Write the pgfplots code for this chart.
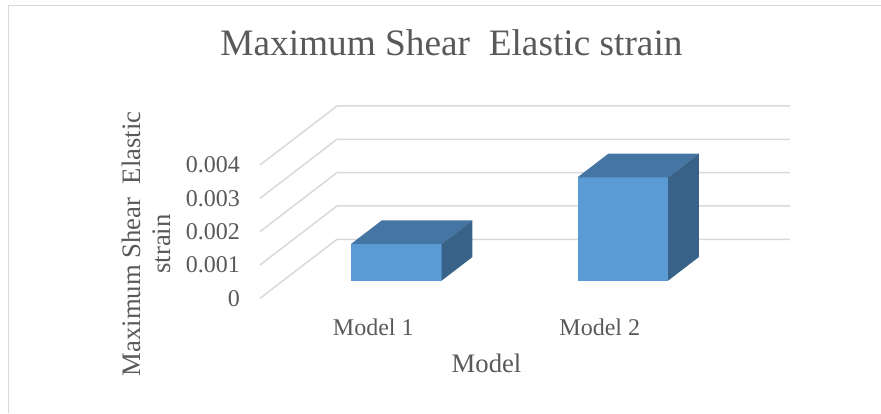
\documentclass[border=0pt]{standalone}
\usepackage{fontspec}
\setmainfont{Liberation Serif}
\usepackage{pgfplots}
\usepackage{pgfplotstable}
\pgfplotsset{compat=1.18}

\definecolor{txt}{RGB}{89,89,89}
\definecolor{gridc}{RGB}{217,217,217}
\definecolor{barfront}{RGB}{91,155,213}
\definecolor{bartop}{RGB}{68,117,163}
\definecolor{barside}{RGB}{56,98,135}

% oblique depth offsets: x in category units, y in strain units
\def\DX{0.34}
\def\DY{0.00177}

% unit faces of a box: u = across (-1..1), h = height (0..1), d = depth (0 front .. 1 back)
\pgfplotstableread{
u h d
-1 0 0.3
1 0 0.3
1 1 0.3
-1 1 0.3
}\frontface
\pgfplotstableread{
u h d
-1 1 0.3
1 1 0.3
1 1 0.7
-1 1 0.7
}\topface
\pgfplotstableread{
u h d
1 0 0.3
1 0 0.7
1 1 0.7
1 1 0.3
}\sideface
% one gridline: front end -> back wall -> along the back wall
\pgfplotstableread{
a b c
0 0 0
1 1 0
1 1 1
}\gridshape

% #1 = category position, #2 = value
\newcommand{\barbox}[2]{%
  \addplot[fill=barfront, draw=none] table[x expr={#1+0.2*\thisrow{u}+\DX*\thisrow{d}}, y expr={#2*\thisrow{h}+\DY*\thisrow{d}}]{\frontface};
  \addplot[fill=bartop, draw=none] table[x expr={#1+0.2*\thisrow{u}+\DX*\thisrow{d}}, y expr={#2*\thisrow{h}+\DY*\thisrow{d}}]{\topface};
  \addplot[fill=barside, draw=none] table[x expr={#1+0.2*\thisrow{u}+\DX*\thisrow{d}}, y expr={#2*\thisrow{h}+\DY*\thisrow{d}}]{\sideface};
}

\begin{document}
\begin{tikzpicture}
\path[use as bounding box] (0pt,0pt) rectangle (881pt,413pt);
\draw[gridc, line width=1.5pt] (8.5pt,0pt) -- (8.5pt,407.3pt) -- (881pt,407.3pt);
\begin{axis}[
  at={(260pt,114.7pt)}, anchor=south west,
  scale only axis, width=530pt, height=192.3pt,
  xmin=0, xmax=2.34, ymin=0, ymax=0.00577,
  clip=false,
  axis line style={draw=none},
  major tick length=0pt,
  xtick={0.5,1.5}, xticklabels={Model 1, Model 2},
  ytick={0,0.001,0.002,0.003,0.004},
  scaled y ticks=false,
  yticklabel style={/pgf/number format/fixed, /pgf/number format/precision=3,
    /pgf/number format/assume math mode=true,
    anchor=east, inner sep=0pt, xshift=-20pt},
  xticklabel style={anchor=base, inner sep=0pt, yshift=-36.7pt},
  tick label style={font=\fontsize{24}{28}\selectfont, text=txt},
  title={Maximum Shear\ \ Elastic strain},
  title style={at={(axis description cs:0.3613,1.2288)}, anchor=base,
    inner sep=0pt, font=\fontsize{37.3}{40}\selectfont, text=txt},
  xlabel={Model},
  xlabel style={at={(axis description cs:0.4274,0)}, anchor=base,
    inner sep=0pt, yshift=-74.4pt, font=\fontsize{26.7}{30}\selectfont, text=txt},
  ylabel={Maximum Shear\ \ Elastic\\strain},
  ylabel style={at={(axis description cs:-0.2138,0.2824)}, anchor=center,
    align=center, inner sep=0pt, font=\fontsize{26.7}{30}\selectfont, text=txt},
]
\pgfplotsinvokeforeach{0,0.001,0.002,0.003,0.004}{
  \addplot[gridc, line width=1.5pt] table[x expr={\DX*\thisrow{a}+2*\thisrow{c}}, y expr={#1+\DY*\thisrow{b}}]{\gridshape};
}
\barbox{0.5}{0.0011}
\barbox{1.5}{0.0031}
\end{axis}
\end{tikzpicture}
\end{document}
